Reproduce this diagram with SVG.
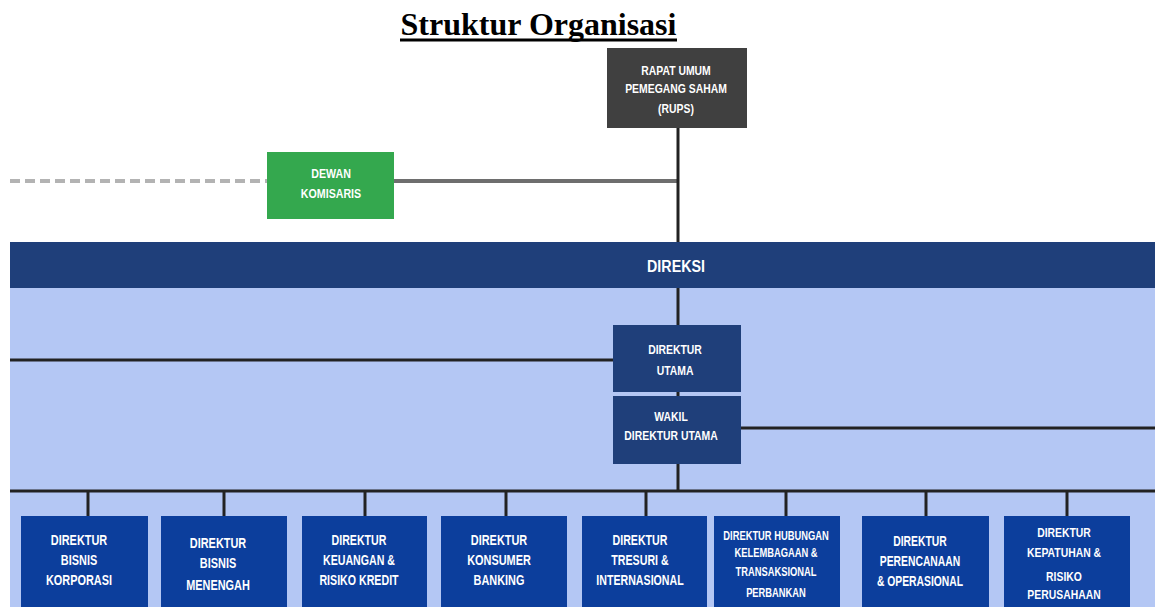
<svg xmlns="http://www.w3.org/2000/svg" width="1155" height="610" viewBox="0 0 1155 610">
  <style>
    .title { font-family: "Liberation Serif", "Times New Roman", serif; font-weight: bold; font-size: 32px; fill: #000; }
    .lbl { font-family: "Liberation Sans", Arial, sans-serif; font-weight: bold; font-size: 13px; fill: #fff; text-anchor: middle; }
    .lbl14 { font-family: "Liberation Sans", Arial, sans-serif; font-weight: bold; font-size: 14px; fill: #fff; text-anchor: middle; }
    .lbl17 { font-family: "Liberation Sans", Arial, sans-serif; font-weight: bold; font-size: 17px; fill: #fff; text-anchor: middle; }
    .navy { fill: #1f3f7a; }
    .dir { fill: #0c3e9c; }
    .wire { stroke: #222; stroke-width: 3; fill: none; }
  </style>

  <rect x="0" y="0" width="1155" height="610" fill="#fff"/>

  <!-- heading -->
  <g id="title">
    <text class="title" x="538.5" y="35" text-anchor="middle">Struktur Organisasi</text>
    <rect x="400" y="38.5" width="277" height="3" fill="#000"/>
  </g>

  <!-- board of directors band and background area -->
  <rect x="10" y="288" width="1145" height="319" fill="#b4c7f4"/>
  <g id="direksi">
    <rect x="10" y="242" width="1145" height="46" class="navy"/>
    <text class="lbl17" transform="translate(676,0) scale(0.84,1)" x="0" y="272">DIREKSI</text>
  </g>

  <!-- connectors -->
  <g id="connectors">
    <line x1="10" y1="181" x2="267" y2="181" stroke="#b3b3b3" stroke-width="4" stroke-dasharray="10 5"/>
    <line x1="394" y1="181" x2="678" y2="181" stroke="#6e6e6e" stroke-width="4"/>
    <line class="wire" x1="678" y1="128" x2="678" y2="242"/>
    <line class="wire" x1="678" y1="288" x2="678" y2="325"/>
    <line class="wire" x1="10" y1="360" x2="613" y2="360"/>
    <line class="wire" x1="741" y1="428" x2="1155" y2="428"/>
    <line class="wire" x1="678" y1="392" x2="678" y2="396"/>
    <line class="wire" x1="678" y1="464" x2="678" y2="491"/>
    <line class="wire" x1="10" y1="491" x2="1155" y2="491"/>
    <line class="wire" x1="88" y1="491" x2="88" y2="516"/>
    <line class="wire" x1="224" y1="491" x2="224" y2="516"/>
    <line class="wire" x1="365" y1="491" x2="365" y2="516"/>
    <line class="wire" x1="506" y1="491" x2="506" y2="516"/>
    <line class="wire" x1="646" y1="491" x2="646" y2="516"/>
    <line class="wire" x1="786" y1="491" x2="786" y2="516"/>
    <line class="wire" x1="926" y1="491" x2="926" y2="516"/>
    <line class="wire" x1="1067" y1="491" x2="1067" y2="516"/>
  </g>

  <g id="rups">
    <rect x="607" y="48" width="140" height="80" fill="#404040"/>
    <g transform="translate(676,0) scale(0.8,1)">
      <text class="lbl" x="0" y="75">RAPAT UMUM</text>
      <text class="lbl" x="0" y="93">PEMEGANG SAHAM</text>
      <text class="lbl" x="0" y="113">(RUPS)</text>
    </g>
  </g>

  <g id="dewan-komisaris">
    <rect x="267" y="152" width="127" height="67" fill="#34a84e"/>
    <g transform="translate(331,0) scale(0.82,1)">
      <text class="lbl" x="0" y="178">DEWAN</text>
      <text class="lbl" x="0" y="198">KOMISARIS</text>
    </g>
  </g>

  <g id="direktur-utama">
    <rect x="613" y="325" width="128" height="67" class="navy"/>
    <g transform="translate(675,0) scale(0.8,1)">
      <text class="lbl" x="0" y="354">DIREKTUR</text>
      <text class="lbl" x="0" y="375">UTAMA</text>
    </g>
  </g>

  <g id="wakil-direktur-utama">
    <rect x="613" y="396" width="128" height="68" class="navy"/>
    <g transform="translate(671,0) scale(0.8,1)">
      <text class="lbl" x="0" y="421">WAKIL</text>
      <text class="lbl" x="0" y="440">DIREKTUR UTAMA</text>
    </g>
  </g>

  <!-- directors -->
  <g id="dir-bisnis-korporasi">
    <rect x="21" y="516" width="127" height="91" class="dir"/>
    <g transform="translate(79,0) scale(0.78,1)">
      <text class="lbl14" x="0" y="545">DIREKTUR</text>
      <text class="lbl14" x="0" y="565">BISNIS</text>
      <text class="lbl14" x="0" y="585">KORPORASI</text>
    </g>
  </g>

  <g id="dir-bisnis-menengah">
    <rect x="161" y="516" width="126" height="91" class="dir"/>
    <g transform="translate(218,0) scale(0.78,1)">
      <text class="lbl14" x="0" y="548">DIREKTUR</text>
      <text class="lbl14" x="0" y="568">BISNIS</text>
      <text class="lbl14" x="0" y="590">MENENGAH</text>
    </g>
  </g>

  <g id="dir-keuangan">
    <rect x="302" y="516" width="125" height="91" class="dir"/>
    <g transform="translate(359,0) scale(0.76,1)">
      <text class="lbl14" x="0" y="545">DIREKTUR</text>
      <text class="lbl14" x="0" y="565">KEUANGAN &amp;</text>
      <text class="lbl14" x="0" y="585">RISIKO KREDIT</text>
    </g>
  </g>

  <g id="dir-konsumer">
    <rect x="441" y="516" width="126" height="91" class="dir"/>
    <g transform="translate(499,0) scale(0.78,1)">
      <text class="lbl14" x="0" y="545">DIREKTUR</text>
      <text class="lbl14" x="0" y="565">KONSUMER</text>
      <text class="lbl14" x="0" y="585">BANKING</text>
    </g>
  </g>

  <g id="dir-tresuri">
    <rect x="582" y="516" width="125" height="91" class="dir"/>
    <g transform="translate(640,0) scale(0.76,1)">
      <text class="lbl14" x="0" y="545">DIREKTUR</text>
      <text class="lbl14" x="0" y="565">TRESURI &amp;</text>
      <text class="lbl14" x="0" y="585">INTERNASIONAL</text>
    </g>
  </g>

  <g id="dir-hubungan">
    <rect x="714" y="516" width="126" height="91" class="dir"/>
    <g transform="translate(776,0) scale(0.72,1)">
      <text class="lbl" x="0" y="540">DIREKTUR HUBUNGAN</text>
      <text class="lbl" x="0" y="557">KELEMBAGAAN &amp;</text>
      <text class="lbl" x="0" y="576">TRANSAKSIONAL</text>
      <text class="lbl" x="0" y="597">PERBANKAN</text>
    </g>
  </g>

  <g id="dir-perencanaan">
    <rect x="862" y="516" width="127" height="91" class="dir"/>
    <g transform="translate(920,0) scale(0.74,1)">
      <text class="lbl14" x="0" y="546">DIREKTUR</text>
      <text class="lbl14" x="0" y="566">PERENCANAAN</text>
      <text class="lbl14" x="0" y="586">&amp; OPERASIONAL</text>
    </g>
  </g>

  <g id="dir-kepatuhan">
    <rect x="1004" y="516" width="126" height="91" class="dir"/>
    <g transform="translate(1064,0) scale(0.8,1)">
      <text class="lbl" x="0" y="537">DIREKTUR</text>
      <text class="lbl" x="0" y="557">KEPATUHAN &amp;</text>
      <text class="lbl" x="0" y="581">RISIKO</text>
      <text class="lbl" x="0" y="599">PERUSAHAAN</text>
    </g>
  </g>
</svg>
